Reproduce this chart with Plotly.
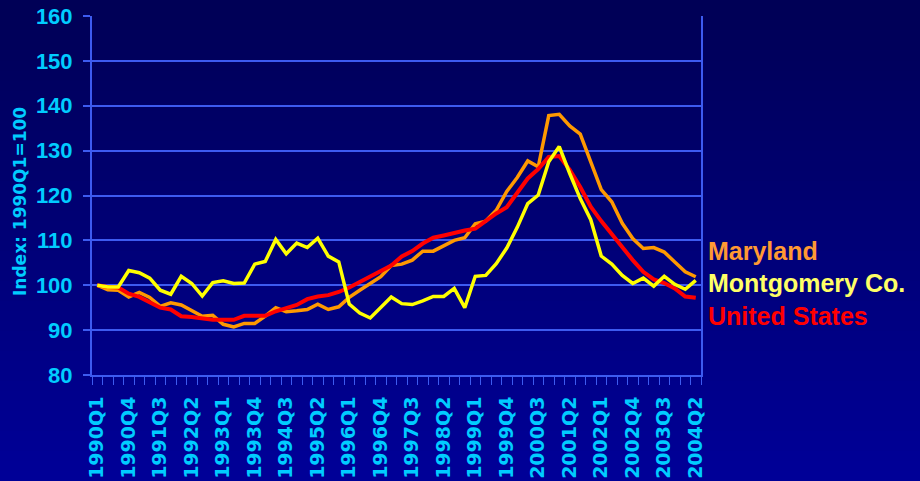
import plotly.graph_objects as go

quarters = [
    "1990Q1","1990Q2","1990Q3","1990Q4","1991Q1","1991Q2","1991Q3","1991Q4",
    "1992Q1","1992Q2","1992Q3","1992Q4","1993Q1","1993Q2","1993Q3","1993Q4",
    "1994Q1","1994Q2","1994Q3","1994Q4","1995Q1","1995Q2","1995Q3","1995Q4",
    "1996Q1","1996Q2","1996Q3","1996Q4","1997Q1","1997Q2","1997Q3","1997Q4",
    "1998Q1","1998Q2","1998Q3","1998Q4","1999Q1","1999Q2","1999Q3","1999Q4",
    "2000Q1","2000Q2","2000Q3","2000Q4","2001Q1","2001Q2","2001Q3","2001Q4",
    "2002Q1","2002Q2","2002Q3","2002Q4","2003Q1","2003Q2","2003Q3","2003Q4",
    "2004Q1","2004Q2",
]

tick_labels = ["1990Q1","1990Q4","1991Q3","1992Q2","1993Q1","1993Q4","1994Q3",
               "1995Q2","1996Q1","1996Q4","1997Q3","1998Q2","1999Q1","1999Q4",
               "2000Q3","2001Q2","2002Q1","2002Q4","2003Q3","2004Q2"]

maryland = [100, 99.0, 98.9, 97.4, 98.4, 97.3, 95.3, 96.1, 95.6, 94.4,
            93.1, 93.3, 91.3, 90.7, 91.5, 91.5, 93.1, 95.0, 94.1, 94.3,
            94.6, 95.8, 94.6, 95.2, 97.3, 98.9, 100.5, 101.9, 104.4, 104.7,
            105.6, 107.6, 107.6, 108.9, 110.0, 110.6, 113.7, 114.3, 116.7, 120.9,
            124.0, 127.7, 126.4, 137.8, 138.1, 135.5, 133.7, 127.5, 121.3, 118.6,
            113.8, 110.4, 108.2, 108.4, 107.4, 105.2, 103.0, 101.9]

montgomery = [100, 99.6, 99.6, 103.3, 102.8, 101.6, 98.9, 98.0, 102.0, 100.4,
              97.6, 100.6, 101.0, 100.4, 100.5, 104.7, 105.3, 110.2, 107.0, 109.4,
              108.4, 110.5, 106.5, 105.2, 95.8, 93.8, 92.7, 95.0, 97.4, 95.9,
              95.7, 96.5, 97.5, 97.5, 99.3, 95.0, 102.0, 102.2, 104.8, 108.3,
              112.9, 118.2, 120.1, 127.5, 130.9, 124.9, 119.3, 114.6, 106.5, 104.7,
              102.2, 100.4, 101.6, 99.8, 102.0, 100.2, 99.1, 101.1]

united_states = [100, 99.6, 99.5, 98.1, 97.4, 96.3, 95.0, 94.6, 93.1, 92.9,
                 92.6, 92.3, 92.3, 92.3, 93.2, 93.2, 93.2, 94.2, 95.0, 95.6,
                 96.9, 97.5, 97.8, 98.5, 99.5, 100.7, 102.0, 103.2, 104.4, 106.4,
                 107.6, 109.3, 110.6, 111.1, 111.7, 112.2, 112.6, 114.3, 116.0, 117.4,
                 120.5, 123.8, 125.9, 128.6, 128.8, 125.7, 121.9, 117.5, 114.3, 111.4,
                 108.2, 105.6, 103.0, 101.3, 100.5, 99.3, 97.5, 97.2]

series_names = ["Maryland", "Montgomery Co.", "United States"]

W, H = 920, 481
L, R, T, B = 92, 219, 16, 106
plot_h = H - T - B
plot_w = W - L - R

x_idx = list(range(len(quarters)))
tick_idx = [quarters.index(t) for t in tick_labels]

fig = go.Figure()
fig.add_trace(go.Scatter(x=x_idx, y=maryland, mode="lines", name=series_names[0],
                         line=dict(color="#FF9900", width=3.5), hoverinfo="skip"))
fig.add_trace(go.Scatter(x=x_idx, y=united_states, mode="lines", name=series_names[2],
                         line=dict(color="#FF0000", width=4), hoverinfo="skip"))
fig.add_trace(go.Scatter(x=x_idx, y=montgomery, mode="lines", name=series_names[1],
                         line=dict(color="#FFFF00", width=3.5), hoverinfo="skip"))

# vertical background gradient
shapes = []
n = 48
def lerp(a, b, t):
    return int(round(a + (b - a) * t))
for k in range(n):
    py0 = H * k / n
    py1 = H * (k + 1) / n + 1
    t = (k + 0.5) / n
    col = "rgb(0,0,%d)" % lerp(0x55, 0x98, t)
    shapes.append(dict(type="rect", xref="paper", yref="paper",
                       x0=-0.5, x1=1.6,
                       y0=(H - B - py1) / plot_h, y1=(H - B - py0) / plot_h,
                       fillcolor=col, line=dict(width=0), layer="below"))

cyan = "#00CCFF"
grid = "#3D5BF0"
annotations = [
    dict(text="<b>Index: 1990Q1=100</b>", xref="paper", yref="paper",
         x=(20 - L) / plot_w, y=(H - B - 202) / plot_h, textangle=-90,
         showarrow=False, xanchor="center", yanchor="middle",
         font=dict(family="DejaVu Sans", size=17, color=cyan)),
]
leg_cols = ["#FF9933", "#FFFF66", "#FF0000"]
leg_y = [251, 283, 316]
for name, c, py in zip(series_names, leg_cols, leg_y):
    annotations.append(dict(text="<b>%s</b>" % name, xref="paper", yref="paper",
                            x=(706 - L) / plot_w, y=(H - B - py) / plot_h,
                            xanchor="left", yanchor="middle", showarrow=False,
                            font=dict(family="Liberation Sans, Arial", size=25, color=c)))

fig.update_layout(
    width=W, height=H, autosize=False,
    margin=dict(l=L, r=R, t=T, b=B, autoexpand=False),
    paper_bgcolor="#000077",
    plot_bgcolor="rgba(0,0,0,0)",
    showlegend=False,
    shapes=shapes,
    annotations=annotations,
    xaxis=dict(
        automargin=False,
        range=[-0.5, len(quarters) - 0.5],
        tickmode="array", tickvals=tick_idx, ticktext=tick_labels,
        tickangle=-90, ticks="outside", ticklen=12, tickcolor="rgba(0,0,0,0)",
        tickfont=dict(family="DejaVu Sans", size=19, color=cyan, weight="bold"),
        showgrid=False, zeroline=False,
        showline=True, linecolor=grid, linewidth=2, mirror=False,
        minor=dict(tickmode="linear", tick0=-0.5, dtick=1, ticks="outside",
                   ticklen=8, tickcolor=grid, tickwidth=1, showgrid=False),
    ),
    yaxis=dict(
        automargin=False,
        range=[80, 160], tickmode="linear", tick0=80, dtick=10,
        ticks="outside", ticklen=7, tickcolor=grid, tickwidth=1.5,
        ticklabelstandoff=6,
        tickfont=dict(family="Liberation Sans, Arial", size=22, color=cyan, weight="bold"),
        showgrid=True, gridcolor=grid, gridwidth=1.5,
        zeroline=False, showline=True, linecolor=grid, linewidth=2, mirror=True,
    ),
)

fig.write_html("out.html",
               config={"displayModeBar": False},
               post_script="document.body.style.margin='0';document.body.style.padding='0';document.body.style.overflow='hidden';")
